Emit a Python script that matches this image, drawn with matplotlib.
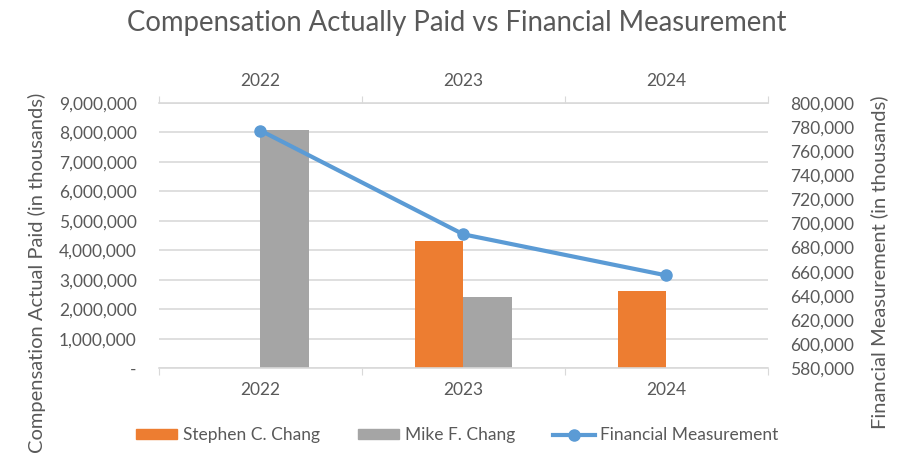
import matplotlib.pyplot as plt
import matplotlib.ticker as mticker
from matplotlib.patches import Patch
from matplotlib.lines import Line2D
import numpy as np

plt.rcParams['font.family'] = ['Lato', 'DejaVu Sans']

years = ['2022', '2023', '2024']
stephen = [0, 4330000, 2620000]
mike = [8080000, 2420000, 0]
financial = [777000, 691000, 657000]

orange = '#ED7D31'
gray = '#A5A5A5'
blue = '#5B9BD5'
txt = '#595959'
grid = '#D9D9D9'

fig = plt.figure(figsize=(9.14, 4.63), dpi=100)
ax = fig.add_axes([0.174, 0.2045, 0.666, 0.5735])
x = np.arange(len(years))
w = 0.24
ax.bar(x - w/2, stephen, w, color=orange, zorder=2)
ax.bar(x + w/2, mike, w, color=gray, zorder=2)
ax.set_xlim(-0.5, 2.5)
ax.set_ylim(0, 9000000)
ax.set_yticks(np.arange(0, 9000001, 1000000))
ax.yaxis.set_major_formatter(mticker.FuncFormatter(lambda v, p: '-' if v == 0 else f'{int(v):,}'))
ax.grid(axis='y', color=grid, lw=1.2, zorder=0)
ax.set_axisbelow(True)

# category ticks at boundaries, labels at centres
ax.set_xticks([-0.5, 0.5, 1.5, 2.5])
ax.set_xticklabels([])
ax.set_xticks(x, minor=True)
ax.set_xticklabels(years, minor=True)
ax.tick_params(axis='x', which='major', length=5, color=grid, top=True, bottom=True, direction='out')
ax.tick_params(axis='x', which='minor', length=0, top=True, labeltop=True, labelsize=12.5, labelcolor=txt, pad=10)
ax.tick_params(axis='y', length=0, labelsize=12.5, labelcolor=txt, pad=16)
for s in ['left', 'right']:
    ax.spines[s].set_visible(False)
for s in ['top', 'bottom']:
    ax.spines[s].set_color(grid)
    ax.spines[s].set_linewidth(1.2)

ax2 = ax.twinx()
ax2.plot(x, financial, color=blue, lw=3, marker='o', markersize=8, zorder=3)
ax2.set_ylim(580000, 800000)
ax2.set_yticks(np.arange(580000, 800001, 20000))
ax2.yaxis.set_major_formatter(mticker.FuncFormatter(lambda v, p: f'{int(v):,}'))
ax2.tick_params(axis='y', length=0, labelsize=12.5, labelcolor=txt, pad=16)
for s in ax2.spines.values():
    s.set_visible(False)

fig.text(0.5, 0.95, 'Compensation Actually Paid vs Financial Measurement',
         ha='center', va='center', fontsize=19.8, color=txt)
fig.text(0.04, 0.41, 'Compensation Actual Paid (in thousands)', rotation=90,
         ha='center', va='center', fontsize=14.5, color=txt)
fig.text(0.962, 0.434, 'Financial Measurement (in thousands)', rotation=90,
         ha='center', va='center', fontsize=14.5, color=txt)

handles = [Patch(color=orange), Patch(color=gray),
           Line2D([0], [0], color=blue, lw=3, marker='o', markersize=8)]
fig.legend(handles, ['Stephen C. Chang', 'Mike F. Chang', 'Financial Measurement'],
           loc='center', bbox_to_anchor=(0.5, 0.06), ncol=3, frameon=False,
           fontsize=12.5, labelcolor=txt, handlelength=2.4, handleheight=0.5,
           handletextpad=0.3, columnspacing=2.2)

fig.savefig('out.png', dpi=100)
